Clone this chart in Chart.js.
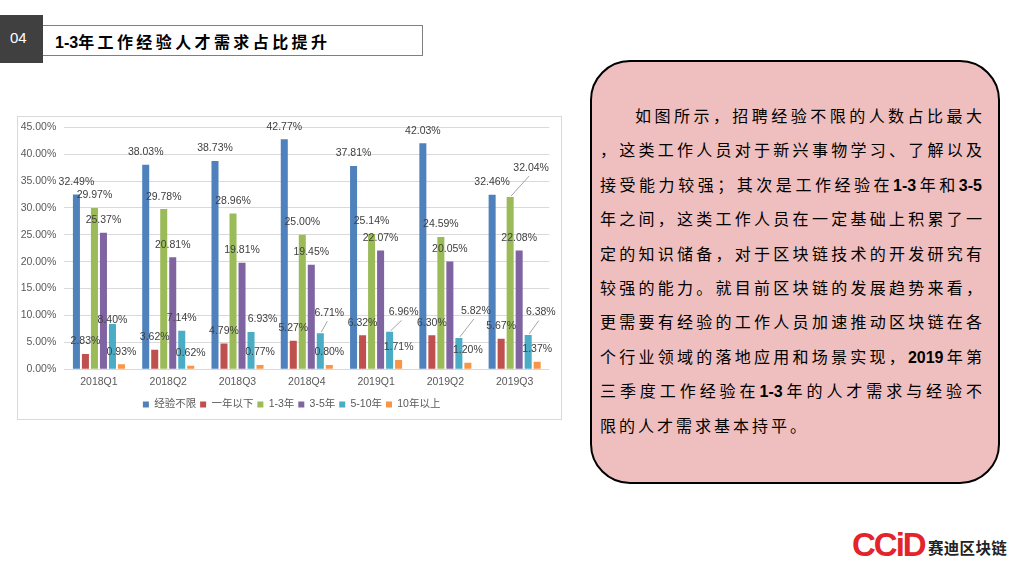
<!DOCTYPE html>
<html>
<head>
<meta charset="utf-8">
<script src="https://cdn.jsdelivr.net/npm/chart.js@4"></script>
<style>
  body { margin: 0; width: 1018px; height: 569px; background: #fff; position: relative; overflow: hidden;
         font-family: 'Noto Sans CJK SC', sans-serif; }
  .tag { position: absolute; left: 0; top: 15px; width: 43px; height: 48px; background: #404040;
         color: #fff; font: 15px 'Liberation Sans', sans-serif; line-height: 46px; text-indent: 10px; }
  .title { position: absolute; left: 43px; top: 25px; width: 380px; height: 31px; border: 1px solid #7f7f7f;
           border-left: none; box-sizing: border-box; font-weight: bold; font-size: 16px; line-height: 30px;
           padding-left: 12px; letter-spacing: 3.4px; color: #000; }
  .num { font-family: 'Liberation Sans', sans-serif; font-weight: bold; letter-spacing: 0; }
  #chartBox { position: absolute; left: 17px; top: 116px; width: 545px; height: 304px;
              border: 1px solid #d9d9d9; box-sizing: border-box; }
  #chart { position: absolute; left: 0; top: -4px; }
  .note { position: absolute; left: 590px; top: 60px; width: 410px; height: 424px; background: #efbfbf;
          border: 2px solid #000; border-radius: 40px; box-sizing: border-box; }
  .lines { position: absolute; left: 600px; top: 98px; width: 382px; font-size: 16px; color: #000; }
  .lines div { height: 34.4px; line-height: 34.4px; text-align: justify; text-align-last: justify; white-space: nowrap; }
  .lines div.first { padding-left: 35px; }
  .lines div.last { text-align-last: left; letter-spacing: 3px; }
  .logo { position: absolute; left: 852px; top: 526px; font: bold 33px 'Liberation Sans', sans-serif;
          color: #e3242b; letter-spacing: -2px; }
  .logoText { position: absolute; left: 928px; top: 536px; font-weight: bold; font-size: 15.5px; color: #222;
              letter-spacing: 0.3px; }
</style>
</head>
<body>
<div class="tag">04</div>
<div class="title"><span class="num">1-3</span>年工作经验人才需求占比提升</div>

<div id="chartBox"><canvas id="chart" width="543" height="303"></canvas></div>

<div class="note"></div>
<div class="lines">
  <div class="first">如图所示，招聘经验不限的人数占比最大</div>
  <div>，这类工作人员对于新兴事物学习、了解以及</div>
  <div>接受能力较强；其次是工作经验在<span class="num">1-3</span>年和<span class="num">3-5</span></div>
  <div>年之间，这类工作人员在一定基础上积累了一</div>
  <div>定的知识储备，对于区块链技术的开发研究有</div>
  <div>较强的能力。就目前区块链的发展趋势来看，</div>
  <div>更需要有经验的工作人员加速推动区块链在各</div>
  <div>个行业领域的落地应用和场景实现，<span class="num">2019</span>年第</div>
  <div>三季度工作经验在<span class="num">1-3</span>年的人才需求与经验不</div>
  <div class="last">限的人才需求基本持平。</div>
</div>

<div class="logo">CCiD</div>
<div class="logoText">赛迪区块链</div>

<script>
'use strict';

const quarters = ['2018Q1', '2018Q2', '2018Q3', '2018Q4', '2019Q1', '2019Q2', '2019Q3'];
const seriesNames = ['经验不限', '一年以下', '1-3年', '3-5年', '5-10年', '10年以上'];

const noLimit = [32.49, 38.03, 38.73, 42.77, 37.81, 42.03, 32.46];
const underOneYear = [2.83, 3.62, 4.79, 5.27, 6.32, 6.30, 5.67];
const oneToThree = [29.97, 29.78, 28.96, 25.00, 25.14, 24.59, 32.04];
const threeToFive = [25.37, 20.81, 19.81, 19.45, 22.07, 20.05, 22.08];
const fiveToTen = [8.40, 7.14, 6.93, 6.71, 6.96, 5.82, 6.38];
const overTen = [0.93, 0.62, 0.77, 0.80, 1.71, 1.20, 1.37];

const yTickValues = [0, 5, 10, 15, 20, 25, 30, 35, 40, 45];

const colors = ['#4f81bd', '#c0504d', '#9bbb59', '#8064a2', '#4bacc6', '#f79646'];
const FONT = "'Liberation Sans', 'Noto Sans CJK SC', sans-serif";

// label nudges: "dataset-index": [dx, height above bar top, leader line]
const labelOffsets = {
  '4-0': [0, 4, false],
  '4-2': [11.5, 12.7, false],
  '4-3': [9, 20, true],
  '4-4': [14, 19.5, true],
  '4-5': [17, 27, true],
  '2-6': [21, 29, true],
  '4-6': [12.6, 22.3, true]
};

const valueLabels = {
  id: 'valueLabels',
  afterDatasetsDraw(chart) {
    const ctx = chart.ctx;
    ctx.save();
    ctx.font = '10.5px ' + FONT;
    ctx.fillStyle = '#404040';
    ctx.textAlign = 'center';
    ctx.textBaseline = 'middle';
    chart.data.datasets.forEach((ds, di) => {
      chart.getDatasetMeta(di).data.forEach((bar, i) => {
        const off = labelOffsets[di + '-' + i] || [0, 12.5, false];
        const lx = bar.x + off[0];
        const ly = bar.y - off[1];
        if (off[2]) {
          ctx.strokeStyle = '#a6a6a6';
          ctx.lineWidth = 1;
          ctx.beginPath();
          ctx.moveTo(bar.x + 1, bar.y - 1);
          ctx.lineTo(lx - 2, ly + 8);
          ctx.stroke();
        }
        ctx.fillText(ds.data[i].toFixed(2) + '%', lx, ly);
      });
    });
    ctx.restore();
  }
};

// the legend in the original is centred on the whole box and sits a little lower
const legendShift = {
  id: 'legendShift',
  afterLayout(chart) {
    chart.legend.left += 16;
    chart.legend.top += 4;
    chart.legend.bottom += 4;
  }
};

const seriesData = [noLimit, underOneYear, oneToThree, threeToFive, fiveToTen, overTen];

const data = {
  labels: quarters,
  datasets: seriesNames.map((name, k) => ({
    label: name,
    data: seriesData[k],
    backgroundColor: colors[k],
    categoryPercentage: 0.78,
    barPercentage: 0.78
  }))
};

const config = {
  type: 'bar',
  data: data,
  plugins: [valueLabels, legendShift],
  options: {
    responsive: false,
    animation: false,
    devicePixelRatio: 1,
    layout: { padding: { left: 0, right: 11.7, top: 1.5, bottom: 0.3 } },
    plugins: {
      tooltip: { enabled: false },
      legend: {
        position: 'bottom',
        labels: { boxWidth: 6, boxHeight: 6, padding: 4, color: '#595959', font: { family: FONT, size: 10.5 } }
      }
    },
    scales: {
      x: {
        grid: { display: false, drawTicks: false },
        border: { display: false },
        ticks: { color: '#595959', padding: 7, font: { family: FONT, size: 10.5 } },
        afterFit(scale) { scale.height = 22; }
      },
      y: {
        min: 0,
        max: 45,
        grid: { color: '#d9d9d9', drawTicks: false },
        border: { display: false },
        ticks: {
          color: '#595959',
          padding: 8,
          font: { family: FONT, size: 10.5 },
          callback: v => v.toFixed(2) + '%'
        },
        afterBuildTicks(scale) { scale.ticks = yTickValues.map(v => ({ value: v })); },
        afterFit(scale) { scale.width = 46.3; }
      }
    }
  }
};

const myChart = new Chart(document.getElementById('chart'), config);
</script>
</body>
</html>
